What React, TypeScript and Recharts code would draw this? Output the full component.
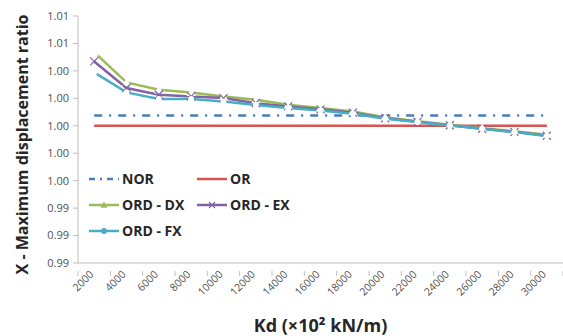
import React from "react";
import { LineChart, Line, XAxis, YAxis, Label } from "recharts";

const kd = [2000, 4000, 6000, 8000, 10000, 12000, 14000, 16000, 18000, 20000, 22000, 24000, 26000, 28000, 30000];
const nor = [1.00075, 1.00075, 1.00075, 1.00075, 1.00075, 1.00075, 1.00075, 1.00075, 1.00075, 1.00075, 1.00075, 1.00075, 1.00075, 1.00075, 1.00075];
const or = [1, 1, 1, 1, 1, 1, 1, 1, 1, 1, 1, 1, 1, 1, 1];
const ordDX = [1.00537, 1.00316, 1.00262, 1.00243, 1.00214, 1.0019, 1.00153, 1.00129, 1.00104, 1.00062, 1.00033, 1.00007, 0.99982, 0.9996, 0.99934];
const ordEX = [1.00469, 1.00275, 1.00226, 1.00214, 1.00202, 1.00165, 1.00141, 1.0012, 1.00095, 1.00055, 1.00029, 1.00004, 0.99978, 0.99956, 0.99927];
const ordFX = [1.00389, 1.00243, 1.00195, 1.00195, 1.00177, 1.00151, 1.00129, 1.00112, 1.00087, 1.00051, 1.00027, 1.00002, 0.99978, 0.99954, 0.99925];

const yTicks = [0.99, 0.992, 0.994, 0.996, 0.998, 1.0, 1.002, 1.004, 1.006, 1.008];
const yTickLabels = ["0.99", "0.99", "0.99", "1.00", "1.00", "1.00", "1.00", "1.00", "1.01", "1.01"];

const data = kd.map((k, i) => ({
  kd: k,
  NOR: nor[i],
  OR: or[i],
  DX: ordDX[i],
  EX: ordEX[i],
  FX: ordFX[i],
}));

const FONT = "'Open Sans', 'Liberation Sans', sans-serif";
const AXIS = "#bfbfbf";
const TEXT = "#505050";

const C = { nor: "#4a7ebb", or: "#d9534f", dx: "#9bbb59", ex: "#8064a2", fx: "#4bacc6" };

function Tri(props: any) {
  const { cx, cy, fill, s = 4.5 } = props;
  if (cx == null || cy == null) return null;
  return <path d={`M${cx},${cy - s} L${cx + s},${cy + s * 0.8} L${cx - s},${cy + s * 0.8} Z`} fill={fill} />;
}
function Cross(props: any) {
  const { cx, cy, stroke, s = 4 } = props;
  if (cx == null || cy == null) return null;
  return (
    <path d={`M${cx - s},${cy - s} L${cx + s},${cy + s} M${cx - s},${cy + s} L${cx + s},${cy - s}`} stroke={stroke} strokeWidth={1.2} />
  );
}
function Dot(props: any) {
  const { cx, cy, fill, r = 3.8 } = props;
  if (cx == null || cy == null) return null;
  return <circle cx={cx} cy={cy} r={r} fill={fill} />;
}

function XTick(props: any) {
  const { x, y, payload, width, index, visibleTicksCount } = props;
  const half = width / visibleTicksCount / 2;
  return (
    <g>
      <line x1={x - half} x2={x - half} y1={y} y2={y + 5} stroke={AXIS} />
      {index === visibleTicksCount - 1 && <line x1={x + half} x2={x + half} y1={y} y2={y + 5} stroke={AXIS} />}
      <text
        x={x}
        y={y + 4}
        transform={`rotate(-45 ${x} ${y + 4})`}
        textAnchor="end"
        fontSize={10.5}
        fill={TEXT}
        fontFamily={FONT}
      >
        {payload.value}
      </text>
    </g>
  );
}

const legendItems = [
  { name: "NOR", color: C.nor, dash: "6 5 2 5", marker: "none", left: 0, top: 0 },
  { name: "OR", color: C.or, dash: undefined, marker: "none", left: 108, top: 0 },
  { name: "ORD - DX", color: C.dx, dash: undefined, marker: "tri", left: 0, top: 26 },
  { name: "ORD - EX", color: C.ex, dash: undefined, marker: "cross", left: 108, top: 26 },
  { name: "ORD - FX", color: C.fx, dash: undefined, marker: "dot", left: 0, top: 52 },
];

function LegendBox() {
  return (
    <div style={{ position: "absolute", left: 88, top: 172, width: 260, height: 70 }}>
      {legendItems.map((it) => (
        <div key={it.name} style={{ position: "absolute", left: it.left, top: it.top, display: "flex", alignItems: "center" }}>
          <svg width={32} height={14}>
            <line x1={1} x2={31} y1={7} y2={7} stroke={it.color} strokeWidth={2.5} strokeDasharray={it.dash} />
            {it.marker === "tri" && <Tri cx={16} cy={7} fill={it.color} s={3.5} />}
            {it.marker === "cross" && <Cross cx={16} cy={7} stroke={it.color} s={3} />}
            {it.marker === "dot" && <Dot cx={16} cy={7} fill={it.color} r={3} />}
          </svg>
          <span style={{ fontFamily: FONT, fontWeight: 700, fontSize: 14, color: "#262626", marginLeft: 2, lineHeight: "14px" }}>{it.name}</span>
        </div>
      ))}
    </div>
  );
}

export default function App() {
  return (
    <div style={{ position: "absolute", left: 0, top: 0, width: 563, height: 336, background: "#fff" }}>
      <LineChart width={563} height={336} data={data} margin={{ top: 16, right: 0, left: 0, bottom: 0 }}>
        <XAxis
          dataKey="kd"
          scale="band"
          stroke={AXIS}
          tickLine={false}
          height={73}
          interval={0}
          tick={<XTick />}
        >
          <Label
            value="Kd (×10² kN/m)"
            position="insideBottom"
            offset={4}
            style={{ fontFamily: FONT, fontWeight: 700, fontSize: 18, fill: "#262626" }}
          />
        </XAxis>
        <YAxis
          domain={[0.99, 1.008]}
          ticks={yTicks}
          width={78}
          stroke={AXIS}
          tickSize={5}
          tickMargin={4}
          tickFormatter={(v: number) => yTickLabels[yTicks.indexOf(v)] ?? v.toFixed(2)}
          tick={{ fontSize: 11, fill: TEXT, fontFamily: FONT }}
          interval={0}
          allowDataOverflow
        >
          <Label
            value="X - Maximum displacement ratio"
            angle={-90}
            position="insideLeft"
            offset={22}
            dy={5}
            style={{ textAnchor: "middle", fontFamily: FONT, fontWeight: 700, fontSize: 16, fill: "#262626" }}
          />
        </YAxis>
        <Line dataKey="NOR" stroke={C.nor} strokeWidth={2.5} strokeDasharray="8 7 2 7" dot={false} isAnimationActive={false} />
        <Line dataKey="OR" stroke={C.or} strokeWidth={2.5} dot={false} isAnimationActive={false} />
        <Line dataKey="DX" stroke={C.dx} strokeWidth={2.5} dot={<Tri />} isAnimationActive={false} />
        <Line dataKey="EX" stroke={C.ex} strokeWidth={2.5} dot={<Cross />} isAnimationActive={false} />
        <Line dataKey="FX" stroke={C.fx} strokeWidth={2.5} dot={<Dot />} isAnimationActive={false} />
      </LineChart>
      <LegendBox />
    </div>
  );
}
